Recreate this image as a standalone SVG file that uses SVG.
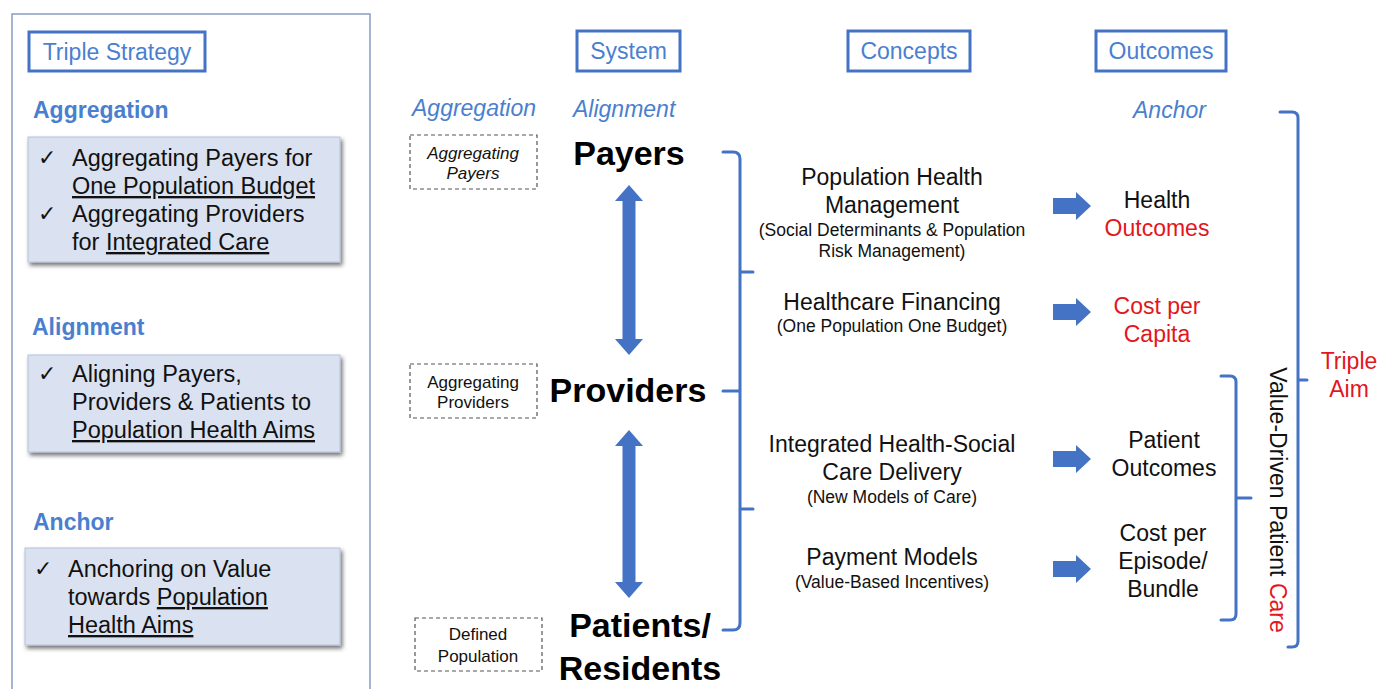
<svg xmlns="http://www.w3.org/2000/svg" width="1381" height="689" viewBox="0 0 1381 689">
<defs>
<filter id="sh" x="-5%" y="-10%" width="115%" height="130%">
<feDropShadow dx="2" dy="3" stdDeviation="2" flood-color="#000" flood-opacity="0.55"/>
</filter>
<style>
text{font-family:"Liberation Sans",Arial,sans-serif;}
.blue{fill:#4a7fcf;}
.hdr{fill:#fff;stroke:#4472c4;stroke-width:3;}
.hdrt{font-size:23px;fill:#4a7fcf;text-anchor:middle;}
.sec{font-size:23px;font-weight:bold;fill:#4a7fcf;}
.box{fill:#dae2f1;stroke:#b6c2da;stroke-width:1;filter:url(#sh);}
.bt{font-size:23.5px;fill:#111;}
.ck{font-family:"DejaVu Sans",sans-serif;font-size:22px;fill:#111;}
.it{font-size:23px;font-style:italic;fill:#4a7fcf;}
.dash{fill:#fff;stroke:#555;stroke-width:1.2;stroke-dasharray:4 3;}
.dt{font-size:17px;fill:#111;text-anchor:middle;}
.big{font-size:34px;font-weight:bold;fill:#000;text-anchor:middle;}
.ct{font-size:23px;fill:#111;text-anchor:middle;}
.cs{font-size:17.5px;fill:#111;text-anchor:middle;}
.ot{font-size:23px;fill:#111;text-anchor:middle;}
.red{fill:#e3161d;}
.brk{fill:none;stroke:#4472c4;stroke-width:3;stroke-linejoin:round;stroke-linecap:round;}
.arr{fill:#4472c4;}
</style>
</defs>
<rect width="1381" height="689" fill="#fff"/>

<g id="left-panel">
<rect x="12" y="14" width="358" height="690" fill="#fff" stroke="#8a9cc4" stroke-width="1.5"/>
<rect class="hdr" x="29" y="32" width="176" height="39"/>
<text class="hdrt" x="117" y="60">Triple Strategy</text>
</g>

<g id="aggregation">
<text class="sec" x="33" y="118">Aggregation</text>
<rect class="box" x="28" y="137" width="312" height="125"/>
<text class="ck" x="38" y="165">✓</text>
<text class="bt" x="72" y="166">Aggregating Payers for</text>
<text class="bt" x="72" y="194"><tspan text-decoration="underline">One Population Budget</tspan></text>
<text class="ck" x="38" y="221">✓</text>
<text class="bt" x="72" y="222">Aggregating Providers</text>
<text class="bt" x="72" y="250">for <tspan text-decoration="underline">Integrated Care</tspan></text>
</g>

<g id="alignment">
<text class="sec" x="32" y="335">Alignment</text>
<rect class="box" x="28" y="355" width="312" height="97"/>
<text class="ck" x="38" y="381">✓</text>
<text class="bt" x="72" y="382">Aligning Payers,</text>
<text class="bt" x="72" y="410">Providers &amp; Patients to</text>
<text class="bt" x="72" y="438"><tspan text-decoration="underline">Population Health Aims</tspan></text>
</g>

<g id="anchor">
<text class="sec" x="33" y="530">Anchor</text>
<rect class="box" x="25" y="548" width="315" height="97"/>
<text class="ck" x="34" y="576">✓</text>
<text class="bt" x="68" y="577">Anchoring on Value</text>
<text class="bt" x="68" y="605">towards <tspan text-decoration="underline">Population</tspan></text>
<text class="bt" x="68" y="633"><tspan text-decoration="underline">Health Aims</tspan></text>
</g>

<g id="headers">
<rect class="hdr" x="577" y="31" width="103" height="40"/>
<text class="hdrt" x="628.5" y="59">System</text>
<rect class="hdr" x="848" y="31" width="122" height="40"/>
<text class="hdrt" x="909" y="59">Concepts</text>
<rect class="hdr" x="1096" y="31" width="130" height="40"/>
<text class="hdrt" x="1161" y="59">Outcomes</text>
<text class="it" x="412" y="116">Aggregation</text>
<text class="it" x="573" y="117">Alignment</text>
<text class="it" x="1133" y="118">Anchor</text>
</g>

<g id="agg-payers">
<rect class="dash" x="410" y="135" width="127" height="54"/>
<text class="dt" x="473" y="159" font-style="italic">Aggregating</text>
<text class="dt" x="473" y="179" font-style="italic">Payers</text>
</g>
<g id="agg-providers">
<rect class="dash" x="410" y="364" width="127" height="54"/>
<text class="dt" x="473" y="388">Aggregating</text>
<text class="dt" x="473" y="408">Providers</text>
</g>
<g id="defined-population">
<rect class="dash" x="415" y="618" width="127" height="53"/>
<text class="dt" x="478" y="640">Defined</text>
<text class="dt" x="478" y="662">Population</text>
</g>

<g id="payers"><text class="big" x="629" y="165">Payers</text></g>
<g id="providers"><text class="big" x="628" y="402">Providers</text></g>
<g id="patients"><text class="big" x="640" y="637">Patients/</text><text class="big" x="640" y="680">Residents</text></g>

<g id="concept-phm">
<text class="ct" x="892" y="185">Population Health</text>
<text class="ct" x="892" y="213">Management</text>
<text class="cs" x="892" y="236">(Social Determinants &amp; Population</text>
<text class="cs" x="892" y="257">Risk Management)</text>
</g>
<g id="concept-financing">
<text class="ct" x="892" y="310">Healthcare Financing</text>
<text class="cs" x="892" y="332">(One Population One Budget)</text>
</g>
<g id="concept-integrated">
<text class="ct" x="892" y="452">Integrated Health-Social</text>
<text class="ct" x="892" y="480">Care Delivery</text>
<text class="cs" x="892" y="503">(New Models of Care)</text>
</g>
<g id="concept-payment">
<text class="ct" x="892" y="565">Payment Models</text>
<text class="cs" x="892" y="588">(Value-Based Incentives)</text>
</g>

<g id="outcome-health">
<text class="ot" x="1157" y="208">Health</text>
<text class="ot red" x="1157" y="236">Outcomes</text>
</g>
<g id="outcome-cost-capita">
<text class="ot red" x="1157" y="314">Cost per</text>
<text class="ot red" x="1157" y="342">Capita</text>
</g>
<g id="outcome-patient">
<text class="ot" x="1164" y="448">Patient</text>
<text class="ot" x="1164" y="476">Outcomes</text>
</g>
<g id="outcome-cost-episode">
<text class="ot" x="1163" y="541">Cost per</text>
<text class="ot" x="1163" y="569">Episode/</text>
<text class="ot" x="1163" y="597">Bundle</text>
</g>

<g id="value-driven">
<text font-size="23" text-anchor="middle" fill="#111" transform="translate(1270,500) rotate(90)">Value-Driven Patient <tspan class="red">Care</tspan></text>
</g>
<g id="triple-aim">
<text class="ot red" x="1349" y="369">Triple</text>
<text class="ot red" x="1349" y="397">Aim</text>
</g>

<g id="connectors">
<polygon class="arr" points="629,185 643,201 635.5,201 635.5,339 643,339 629,355 615,339 622.5,339 622.5,201 615,201"/>
<polygon class="arr" points="629,430 643,446 635.5,446 635.5,582 643,582 629,598 615,582 622.5,582 622.5,446 615,446"/>
<path class="brk" d="M723,152 H733 Q740,152 740,159 V623 Q740,630 733,630 H723 M740,272 H753 M740,509 H753 M740,391 H723"/>
<polygon class="arr" points="1053,198 1076,198 1076,192 1091,206 1076,220 1076,214 1053,214"/>
<polygon class="arr" points="1053,304 1076,304 1076,298 1091,312 1076,326 1076,320 1053,320"/>
<polygon class="arr" points="1053,451 1076,451 1076,445 1091,459 1076,473 1076,467 1053,467"/>
<polygon class="arr" points="1053,561 1076,561 1076,555 1091,569 1076,583 1076,577 1053,577"/>
<path class="brk" d="M1221,376 H1230 Q1236,376 1236,382 V614 Q1236,620 1230,620 H1221 M1236,498 H1251"/>
<path class="brk" d="M1280,112 H1292 Q1298,112 1298,118 V641 Q1298,647 1292,647 H1288 M1298,380 H1307"/>
</g>
</svg>
